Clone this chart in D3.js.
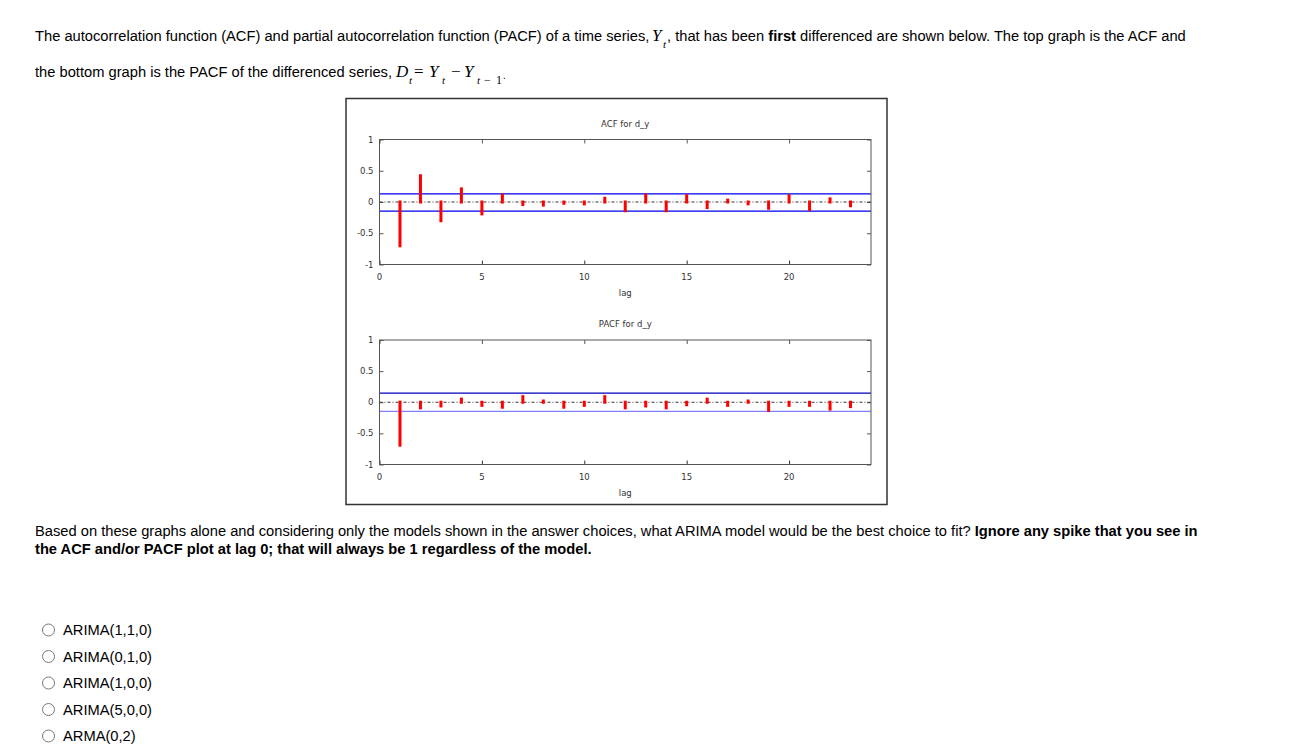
<!DOCTYPE html>
<html>
<head>
<meta charset="utf-8">
<script src="https://cdn.jsdelivr.net/npm/d3@7"></script>
<style>
  body { margin: 0; background: #fff; }
  svg { display: block; }
  .q { font-family: "Liberation Sans", Arial, sans-serif; font-size: 14.7px; fill: #000; }
  .m { font-family: "Liberation Serif", "Times New Roman", serif; font-style: italic; }
  .s { font-family: "Liberation Serif", "Times New Roman", serif; }
  .ax { font-family: "DejaVu Sans", sans-serif; font-size: 8.5px; fill: #333; }
</style>
</head>
<body>
<script>
// chart data
var lags = [1, 2, 3, 4, 5, 6, 7, 8, 9, 10, 11, 12, 13, 14, 15, 16, 17, 18, 19, 20, 21, 22, 23];
var acfValues = [-0.70, 0.42, -0.30, 0.21, -0.19, 0.11, -0.04, -0.05, -0.02, -0.03, 0.06, -0.14,
                 0.11, -0.14, 0.10, -0.09, 0.03, -0.03, -0.10, 0.10, -0.12, 0.05, -0.06];
var pacfValues = [-0.69, -0.09, -0.06, 0.05, -0.05, -0.08, 0.09, 0.02, -0.08, -0.05, 0.09, -0.09,
                  -0.06, -0.09, -0.04, 0.05, -0.05, 0.02, -0.13, -0.05, -0.05, -0.11, -0.07];
var acfBand = [0.13, -0.145];
var pacfBand = [0.145, -0.145];
var xTicks = [0, 5, 10, 15, 20];
var yTicks = [-1, -0.5, 0, 0.5, 1];
var answers = ["ARIMA(1,1,0)", "ARIMA(0,1,0)", "ARIMA(1,0,0)", "ARIMA(5,0,0)", "ARMA(0,2)"];

var width = 1302, height = 756;
var svg = d3.select("body").append("svg").attr("width", width).attr("height", height);

// small helper for the math pieces: italic or upright serif at a given size
function mathSpan(parent, txt, cls, size, xPos, dy) {
  var t = parent.append("tspan").attr("class", cls).style("font-size", size + "px").attr("x", xPos);
  if (dy) t.attr("dy", dy);
  return t.text(txt);
}

// ---- question text ----
var line1 = svg.append("text").attr("class", "q").attr("x", 35).attr("y", 41);
line1.append("tspan").text("The autocorrelation function (ACF) and partial autocorrelation function (PACF) of a time series,");
mathSpan(line1, "Y", "m", 17, 652);
mathSpan(line1, "t", "m", 11, 663, 7);
line1.append("tspan").attr("x", 667).attr("dy", -7).text(", that has been ");
line1.append("tspan").attr("font-weight", "bold").text("first");
line1.append("tspan").text(" differenced are shown below. The top graph is the ACF and");

// D_t = Y_t - Y_{t-1}
var line2 = svg.append("text").attr("class", "q").attr("x", 35).attr("y", 77);
line2.append("tspan").text("the bottom graph is the PACF of the differenced series,");
mathSpan(line2, "D", "m", 17, 396);
mathSpan(line2, "t", "m", 11, 409, 7);
mathSpan(line2, "=", "s", 17, 414, -7);
mathSpan(line2, "Y", "m", 17, 429);
mathSpan(line2, "t", "m", 11, 442, 7);
mathSpan(line2, "\u2212", "s", 17, 451, -7);
mathSpan(line2, "Y", "m", 17, 464);
mathSpan(line2, "t", "m", 11, 477, 7);
mathSpan(line2, "\u2212", "s", 12, 484);
mathSpan(line2, "1", "s", 12, 496);
line2.append("tspan").attr("x", 503).attr("dy", -5).style("font-size", "10px").text(".");

var q1 = svg.append("text").attr("class", "q").attr("x", 35).attr("y", 536);
q1.append("tspan").text("Based on these graphs alone and considering only the models shown in the answer choices, what ARIMA model would be the best choice to fit? ");
q1.append("tspan").attr("font-weight", "bold").text("Ignore any spike that you see in");
svg.append("text").attr("class", "q").attr("x", 35).attr("y", 554)
  .attr("font-weight", "bold")
  .text("the ACF and/or PACF plot at lag 0; that will always be 1 regardless of the model.");

// ---- answer choices ----
var rowY = d3.scalePoint().domain(answers).range([630, 736]);
var opts = svg.append("g").selectAll("g").data(answers).enter().append("g")
  .attr("transform", function(d) { return "translate(0," + rowY(d) + ")"; });
opts.append("circle").attr("cx", 48.5).attr("cy", 0).attr("r", 6)
  .attr("fill", "#fff").attr("stroke", "#777").attr("stroke-width", 1);
opts.append("text").attr("class", "q").attr("x", 63).attr("y", 5).text(function(d) { return d; });

// ---- chart image box ----
svg.append("rect").attr("x", 346).attr("y", 98.5).attr("width", 541).attr("height", 406)
  .attr("fill", "#fff").attr("stroke", "#333").attr("stroke-width", 1.5);

var x = d3.scaleLinear().domain([0, 24]).range([379.5, 871]);

function drawPanel(title, values, band, top, bottom, lowBandColor, highBandColor) {
  var y = d3.scaleLinear().domain([-1, 1]).range([bottom, top]);
  var g = svg.append("g");

  // ticks inside frame, mirrored
  g.append("g").attr("transform", "translate(0," + bottom + ")")
    .call(d3.axisBottom(x).tickValues(xTicks).tickSize(-4).tickFormat(""))
    .call(function(s) { s.select(".domain").remove(); s.selectAll("line").attr("stroke", "#333"); });
  g.append("g").attr("transform", "translate(0," + top + ")")
    .call(d3.axisTop(x).tickValues(xTicks).tickSize(-4).tickFormat(""))
    .call(function(s) { s.select(".domain").remove(); s.selectAll("line").attr("stroke", "#555"); });
  g.append("g").attr("transform", "translate(" + x(0) + ",0)")
    .call(d3.axisLeft(y).tickValues(yTicks).tickSize(-4).tickFormat(""))
    .call(function(s) { s.select(".domain").remove(); s.selectAll("line").attr("stroke", "#555"); });
  g.append("g").attr("transform", "translate(" + x(24) + ",0)")
    .call(d3.axisRight(y).tickValues(yTicks).tickSize(-4).tickFormat(""))
    .call(function(s) { s.select(".domain").remove(); s.selectAll("line").attr("stroke", "#555"); });

  // tick labels
  g.selectAll("text.xl").data(xTicks).enter().append("text")
    .attr("class", "ax").attr("x", function(d) { return x(d); }).attr("y", bottom + 15)
    .attr("text-anchor", "middle").text(function(d) { return d; });
  g.selectAll("text.yl").data(yTicks).enter().append("text")
    .attr("class", "ax").attr("x", x(0) - 6).attr("y", function(d) { return y(d) + 3; })
    .attr("text-anchor", "end").text(function(d) { return d; });

  g.append("text").attr("class", "ax").attr("x", x(12)).attr("y", top - 13)
    .attr("text-anchor", "middle").attr("fill", "#222").text(title);
  g.append("text").attr("class", "ax").attr("x", x(12)).attr("y", bottom + 31)
    .attr("text-anchor", "middle").text("lag");

  // zero line
  g.append("line").attr("x1", x(0)).attr("x2", x(24)).attr("y1", y(0)).attr("y2", y(0))
    .attr("stroke", "#333").attr("stroke-width", 1).attr("stroke-dasharray", "3,2,1,2");

  // confidence bands
  g.append("line").attr("x1", x(0)).attr("x2", x(24)).attr("y1", y(band[0])).attr("y2", y(band[0]))
    .attr("stroke", highBandColor).attr("stroke-width", 1.3);
  g.append("line").attr("x1", x(0)).attr("x2", x(24)).attr("y1", y(band[1])).attr("y2", y(band[1]))
    .attr("stroke", lowBandColor).attr("stroke-width", 1.3);

  // spikes
  g.selectAll("line.spike").data(values).enter().append("line")
    .attr("class", "spike")
    .attr("x1", function(d, i) { return x(lags[i]); })
    .attr("x2", function(d, i) { return x(lags[i]); })
    .attr("y1", y(0))
    .attr("y2", function(d) { return y(d); })
    .attr("stroke", "#ff0000").attr("stroke-width", 3).attr("stroke-linecap", "square");

  // frame
  g.append("rect").attr("x", x(0)).attr("y", top).attr("width", x(24) - x(0)).attr("height", bottom - top)
    .attr("fill", "none").attr("stroke", "#555").attr("stroke-width", 1);
}

drawPanel("ACF for d_y", acfValues, acfBand, 139.5, 264.5, "#0000ee", "#0000ee");
drawPanel("PACF for d_y", pacfValues, pacfBand, 340, 464.5, "#7f7fff", "#0000bb");
</script>
</body>
</html>
